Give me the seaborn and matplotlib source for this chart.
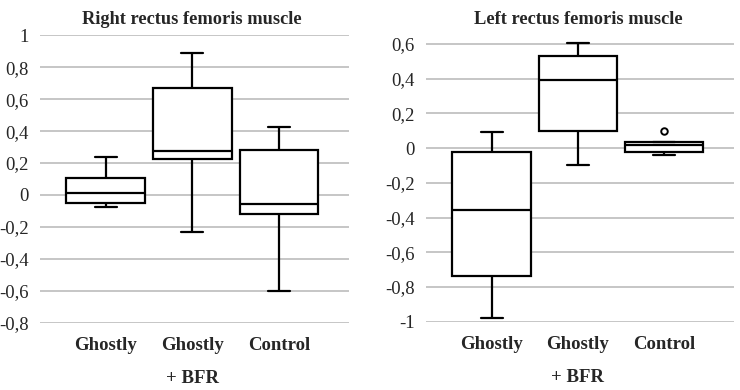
import pandas as pd
import matplotlib.pyplot as plt
import seaborn as sns

# groups on the x axis
groups = ['Ghostly', 'Ghostly\n+ BFR', 'Control']

# five read values per box: low whisker, Q1, median, Q3, high whisker
right_ghostly = [-0.077, -0.048, 0.012, 0.104, 0.236]
right_bfr = [-0.233, 0.227, 0.277, 0.673, 0.892]
right_control = [-0.602, -0.119, -0.058, 0.279, 0.429]

left_ghostly = [-0.977, -0.735, -0.354, -0.023, 0.091]
left_bfr = [-0.097, 0.097, 0.392, 0.529, 0.606]
left_control = [-0.040, -0.021, 0.019, 0.032, 0.032]
left_outliers = [0.099]  # outlier of the control group

right_ticks = [-0.8, -0.6, -0.4, -0.2, 0, 0.2, 0.4, 0.6, 0.8, 1]
left_ticks = [-1, -0.8, -0.6, -0.4, -0.2, 0, 0.2, 0.4, 0.6]


def long_form(series):
    rows = []
    for g, vals in zip(groups, series):
        for v in vals:
            rows.append({'group': g, 'value': v})
    return pd.DataFrame(rows)


df_right = long_form([right_ghostly, right_bfr, right_control])
df_left = long_form([left_ghostly, left_bfr, left_control])
df_out = pd.DataFrame({'group': ['Control'] * len(left_outliers), 'value': left_outliers})

sns.set_style('white')
plt.rcParams['font.family'] = ['Liberation Serif', 'DejaVu Serif']

fig = plt.figure(figsize=(7.4, 3.9), dpi=100)
ax1 = fig.add_axes([40 / 740, 1 - 323 / 390, 309 / 740, 288 / 390])
ax2 = fig.add_axes([426 / 740, 1 - 322.3 / 390, 308 / 740, 279 / 390])

line = dict(color='black', linewidth=1.6)
box_kw = dict(x='group', y='value', order=groups, width=0.91, whis=(0, 100),
              color='white', linecolor='black', linewidth=1.6, saturation=1,
              medianprops=line, whiskerprops=line, capprops=line)

panels = [
    (ax1, df_right, right_ticks, (-0.8, 1.0), 'Right rectus femoris muscle', 192),
    (ax2, df_left, left_ticks, (-1.0, 0.6), 'Left rectus femoris muscle', 578),
]

for ax, df, ticks, ylim, title, tx in panels:
    for t in ticks:
        ax.axhline(t, color='#c6c6c6', linewidth=1.4, zorder=0)
    sns.boxplot(data=df, ax=ax, **box_kw)
    # narrower whisker caps, like the original
    for cont in ax.containers:
        for cap in cont.caps:
            xs = cap.get_xdata()
            mid = (xs[0] + xs[1]) / 2
            cap.set_xdata([mid - 0.127, mid + 0.127])
        for art in list(cont.caps) + list(cont.whiskers) + list(cont.boxes) + list(cont.medians):
            art.set_clip_on(False)
    ax.set_ylim(ylim[0] - 0.003, ylim[1] + 0.003)
    ax.set_xlim(-0.76, 2.81)
    ax.set_yticks(ticks)
    ax.set_yticklabels([f'{t:g}'.replace('.', ',') for t in ticks], fontsize=13.5)
    ax.set_xticks(range(len(groups)))
    ax.set_xticklabels(groups, fontsize=13.5, fontweight='bold', linespacing=2.25)
    ax.tick_params(axis='y', length=0, pad=8)
    ax.tick_params(axis='x', length=0, pad=10)
    ax.set_xlabel('')
    ax.set_ylabel('')
    fig.text(tx / 740, 1 - 20 / 390, title, fontsize=13.2, fontweight='bold',
             ha='center', va='center')
    sns.despine(ax=ax, left=True, bottom=True)

sns.scatterplot(data=df_out, x='group', y='value', ax=ax2, marker='o', s=22,
                color='white', edgecolor='black', linewidth=1.4, zorder=5)
ax2.set_xlabel('')
ax2.set_ylabel('')

fig.savefig('out.png', dpi=100)
